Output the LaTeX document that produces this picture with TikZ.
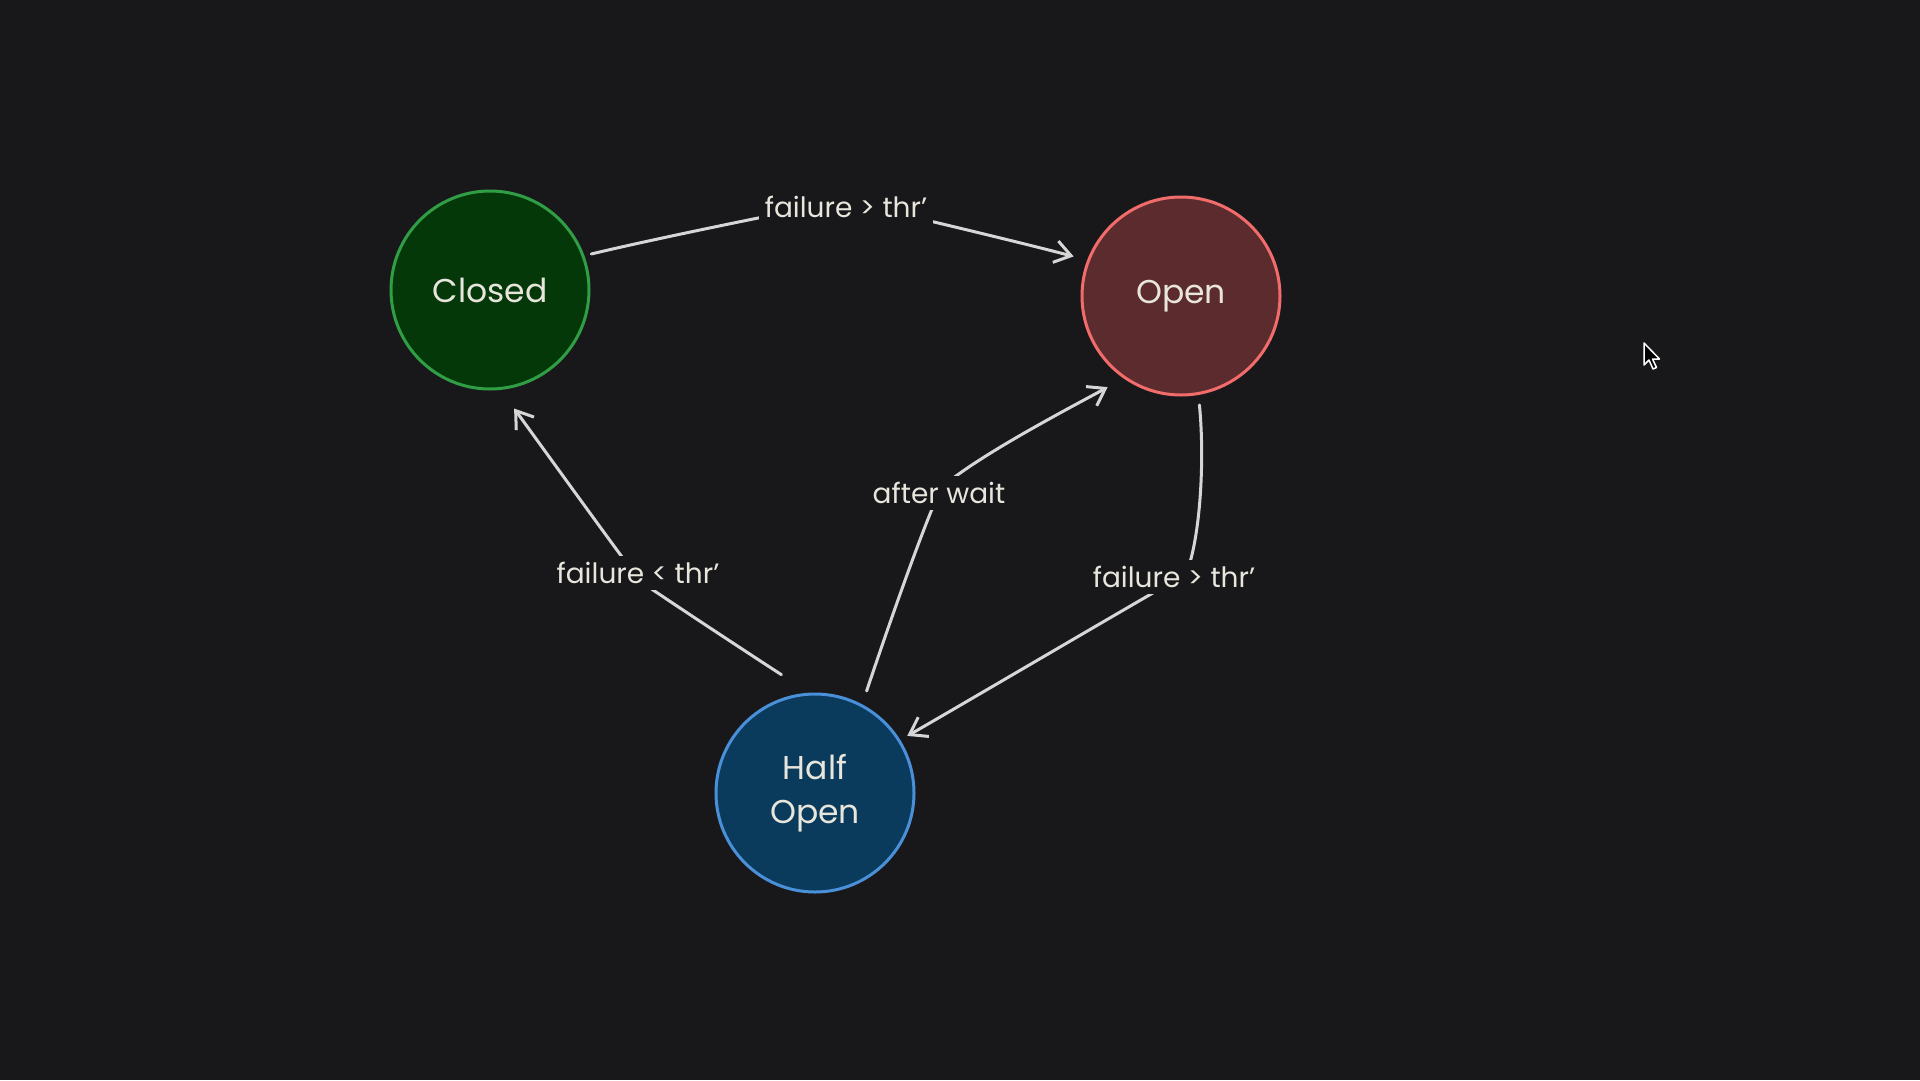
\documentclass[tikz,border=0pt]{standalone}
\usepackage{fontspec}
\setmainfont{Poppins}
\usetikzlibrary{arrows.meta}
\definecolor{bg}{RGB}{24,24,27}
\definecolor{txt}{RGB}{232,230,220}
\definecolor{linec}{RGB}{214,214,214}
\definecolor{gfill}{RGB}{4,56,9}
\definecolor{gdraw}{RGB}{47,158,68}
\definecolor{rfill}{RGB}{92,43,45}
\definecolor{rdraw}{RGB}{242,108,108}
\definecolor{bfill}{RGB}{11,59,92}
\definecolor{bdraw}{RGB}{74,144,217}
\tikzset{
  state/.style={circle, minimum size=198pt, inner sep=0pt, line width=3pt, text=txt,
    font=\fontsize{33}{44}\selectfont, align=center},
  conn/.style={draw=linec, line width=3pt, line cap=round, line join=round,
    -{Straight Barb[length=16pt,width=22pt]}},
  lbl/.style={fill=bg, text=txt, font=\fontsize{28}{32}\selectfont, inner xsep=6pt, inner ysep=6pt}
}
\begin{document}
\begin{tikzpicture}[x=1pt,y=-1pt]
\fill[bg] (0,0) rectangle (1920,1080);
\useasboundingbox (0,0) rectangle (1920,1080);

\node[state, fill=gfill, draw=gdraw] (closed) at (490,290) {Closed};
\node[state, fill=rfill, draw=rdraw] (open) at (1181,296) {Open};
\node[state, fill=bfill, draw=bdraw] (half) at (815,793) {Half\\Open};

\coordinate (m1) at (845,201);
\coordinate (m2) at (1186,574);
\coordinate (m3) at (640,581);
\coordinate (m4) at (941,488);

% Closed -> Open
\draw[conn, shorten <=7pt, shorten >=14pt] (closed.20.8) .. controls (662,237) and (806,208) .. (m1)
  .. controls (884,210) and (1011,240) .. (open.159);
% Open -> Half Open
\draw[conn, shorten <=10pt, shorten >=8pt] (open.-80) .. controls (1205,462) and (1200,540) .. (m2)
  .. controls (1150,594) and (934,721) .. (half.32.4);
% Half Open -> Closed
\draw[conn, shorten <=35pt, shorten >=23pt] (half.92.5) .. controls (777,672) and (661,596) .. (m3)
  .. controls (625,562) and (524,422) .. (closed.-84);
% Half Open -> Open
\draw[conn, shorten <=14pt, shorten >=18pt] (half.62) .. controls (881,648) and (920,534) .. (m4)
  .. controls (978,455) and (1081,402) .. (open.-125);

\node[lbl] (l1) at (846,207) {failure > thr’};
\node[lbl] (l2) at (1174,577) {failure > thr’};
\node[lbl] (l3) at (638,573) {failure < thr’};
\node[lbl] (l4) at (939,493) {after wait};

% mouse cursor
\draw[white, fill=black, line width=1.5pt, line join=round]
  (1644,343) -- ++(0,22) -- ++(5,-5) -- ++(4,9) -- ++(3.5,-1.5) -- ++(-4,-8.5) -- ++(7,0) -- cycle;
\end{tikzpicture}
\end{document}
